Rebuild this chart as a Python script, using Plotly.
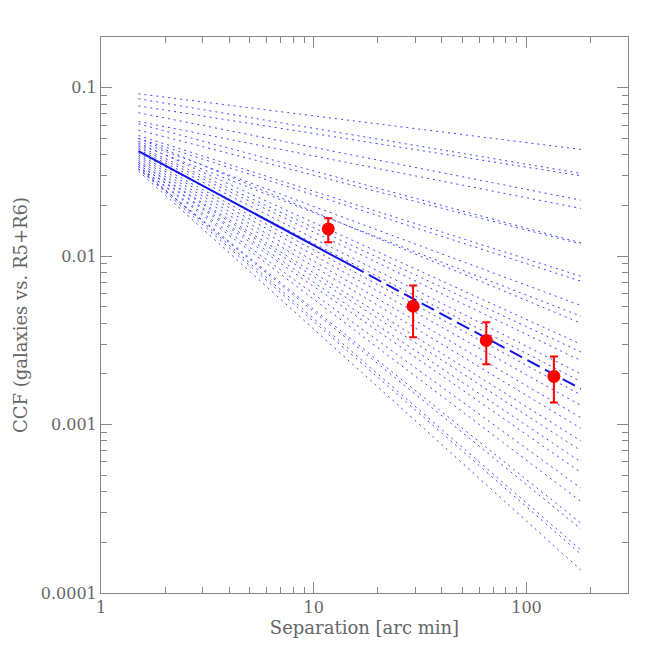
import plotly.graph_objects as go

# Model lines (power laws): value at x=1.5 and at x=180
x_start, x_end = 1.5, 180
model_start = [0.092, 0.086, 0.078, 0.071, 0.063, 0.061, 0.056, 0.052, 0.050, 0.048,
               0.046, 0.050, 0.047, 0.045, 0.044, 0.043, 0.041, 0.040, 0.039, 0.038,
               0.037, 0.036, 0.036, 0.035, 0.035, 0.034, 0.034, 0.033, 0.033, 0.034,
               0.033, 0.032]
model_end = [0.043, 0.031, 0.030, 0.0215, 0.0192, 0.0120, 0.0118, 0.0076, 0.0071, 0.0051,
             0.0044, 0.0040, 0.0030, 0.0027, 0.0024, 0.0020, 0.0018, 0.0015, 0.0013, 0.0011,
             0.00095, 0.00080, 0.00070, 0.00060, 0.00052, 0.00042, 0.00035, 0.00026, 0.00024,
             0.00018, 0.000170, 0.000137]

# Best fit: solid part and dashed extrapolation
fit_solid_x = [1.5, 15]
fit_solid_y = [0.042, 0.0088]
fit_dash_x = [15, 180]
fit_dash_y = [0.0088, 0.00163]

# Measured points
pt_x = [11.7, 29.3, 64.7, 134.5]
pt_y = [0.0145, 0.00504, 0.00316, 0.00193]
err_hi = [0.0168, 0.0067, 0.00405, 0.00254]
err_lo = [0.0121, 0.0033, 0.00228, 0.00135]

fig = go.Figure()
for s, e in zip(model_start, model_end):
    fig.add_trace(go.Scatter(x=[x_start, x_end], y=[s, e], mode="lines",
                             line=dict(color="rgb(70,70,255)", width=1, dash="2px,4px"),
                             showlegend=False, hoverinfo="skip"))

fig.add_trace(go.Scatter(x=fit_solid_x, y=fit_solid_y, mode="lines",
                         line=dict(color="rgb(20,20,230)", width=2), showlegend=False))
fig.add_trace(go.Scatter(x=fit_dash_x, y=fit_dash_y, mode="lines",
                         line=dict(color="rgb(20,20,230)", width=2, dash="14px,6px"),
                         showlegend=False))

fig.add_trace(go.Scatter(
    x=pt_x, y=pt_y, mode="markers",
    marker=dict(color="red", size=13),
    error_y=dict(type="data", symmetric=False,
                 array=[h - v for h, v in zip(err_hi, pt_y)],
                 arrayminus=[v - l for l, v in zip(err_lo, pt_y)],
                 color="red", thickness=2, width=4),
    showlegend=False))

tick_font = dict(family="DejaVu Serif, Liberation Serif, serif", size=16, color="#666")
title_font = dict(family="DejaVu Serif, Liberation Serif, serif", size=18, color="#666")
common = dict(type="log", showgrid=False, zeroline=False, showline=True,
              linecolor="#888", linewidth=1, mirror="ticks", ticks="inside",
              ticklen=11, tickcolor="#888", tickfont=tick_font,
              minor=dict(ticks="inside", ticklen=6, tickcolor="#888", dtick="D1", showgrid=False))

fig.update_layout(
    width=656, height=656,
    margin=dict(l=85, r=36, t=29, b=71),
    paper_bgcolor="white", plot_bgcolor="white",
    xaxis=dict(range=[0, 2.477], tickvals=[1, 10, 100], ticktext=["1", "10", "100"],
               title=dict(text="Separation [arc min]", font=title_font, standoff=4), **common),
    yaxis=dict(range=[-4, -0.699], tickvals=[0.0001, 0.001, 0.01, 0.1],
               ticktext=["0.0001", "0.001", "0.01", "0.1"],
               title=dict(text="CCF (galaxies vs. R5+R6)", font=title_font, standoff=8), **common),
)

fig.write_html("out.html")
